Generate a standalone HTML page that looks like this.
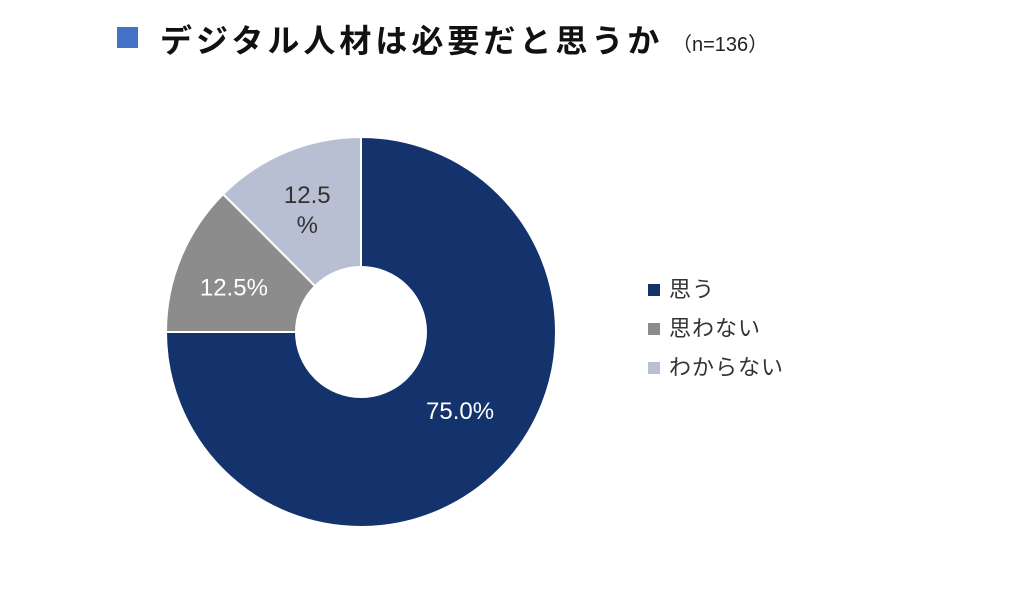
<!DOCTYPE html>
<html><head><meta charset="utf-8"><style>
body{margin:0;width:1024px;height:596px;background:#fff;overflow:hidden;font-family:"Liberation Sans","Noto Sans CJK JP",sans-serif}
</style></head><body>
<svg width="1024" height="596" xmlns="http://www.w3.org/2000/svg">
<rect x="117" y="27" width="21" height="21" fill="#4472c4"/>
<text x="160" y="52" font-size="32" font-weight="bold" letter-spacing="4" fill="#111" font-family="Liberation Sans, Noto Sans CJK JP, sans-serif">デジタル人材は必要だと思うか</text>
<text x="672" y="51" font-size="20" fill="#222" font-family="Liberation Sans, Noto Sans CJK JP, sans-serif">（n=136）</text>
<g id="donut"></g>
<g id="legend"></g>
</svg>
<script>
const categories=["思う","思わない","わからない"];
const values=[75.0,12.5,12.5];
const labels=["75.0%","12.5%","12.5\n%"];
const colors=["#14326c","#8c8c8c","#b9bfd2"];
const ns="http://www.w3.org/2000/svg";
const cx=361,cy=332,R=195,r=65;
const labelNudge=[[-7,-28],[-7,4],[-4,-3]];
const total=values.reduce((a,b)=>a+b,0);
const g=document.getElementById('donut');
function pt(a,rad){return [cx+rad*Math.sin(a),cy-rad*Math.cos(a)];}
let a0=0;
values.forEach((v,i)=>{
  const a1=a0+v/total*2*Math.PI;
  const large=(a1-a0)>Math.PI?1:0;
  const [x0,y0]=pt(a0,R),[x1,y1]=pt(a1,R),[x2,y2]=pt(a1,r),[x3,y3]=pt(a0,r);
  const p=document.createElementNS(ns,'path');
  p.setAttribute('d',`M${x0},${y0}A${R},${R} 0 ${large} 1 ${x1},${y1}L${x2},${y2}A${r},${r} 0 ${large} 0 ${x3},${y3}Z`);
  p.setAttribute('fill',colors[i]);p.setAttribute('stroke','#fff');p.setAttribute('stroke-width','2');
  
  
  g.appendChild(p);
  const mid=(a0+a1)/2;
  const lr=i===0?(R+r)/2+20:(R+r)/2;
  let [lx,ly]=pt(mid,lr);
  lx+=labelNudge[i][0];ly+=labelNudge[i][1];
  const t=document.createElementNS(ns,'text');
  t.setAttribute('text-anchor','middle');t.setAttribute('font-size','24');
  t.setAttribute('fill',i===2?'#333':'#fff');
  
  
  const lines=labels[i].split("\n");
  lines.forEach((s,j)=>{const ts=document.createElementNS(ns,'tspan');ts.setAttribute('x',lx);ts.setAttribute('y',ly+9+(j-(lines.length-1)/2)*30);ts.textContent=s;t.appendChild(ts);});
  g.appendChild(t);
  a0=a1;
});
const lg=document.getElementById('legend');
categories.forEach((c,i)=>{
  const y=284+i*39;
  const s=document.createElementNS(ns,'rect');
  s.setAttribute('x',648);s.setAttribute('y',y);s.setAttribute('width',12);s.setAttribute('height',12);s.setAttribute('fill',colors[i]);
  
  
  lg.appendChild(s);
  const t=document.createElementNS(ns,'text');
  t.setAttribute('x',669);t.setAttribute('y',y+13);t.setAttribute('font-size','22');t.setAttribute('letter-spacing','1');t.setAttribute('fill','#333');
  t.textContent=c;
  
  
  lg.appendChild(t);
});
</script>
</body></html>
